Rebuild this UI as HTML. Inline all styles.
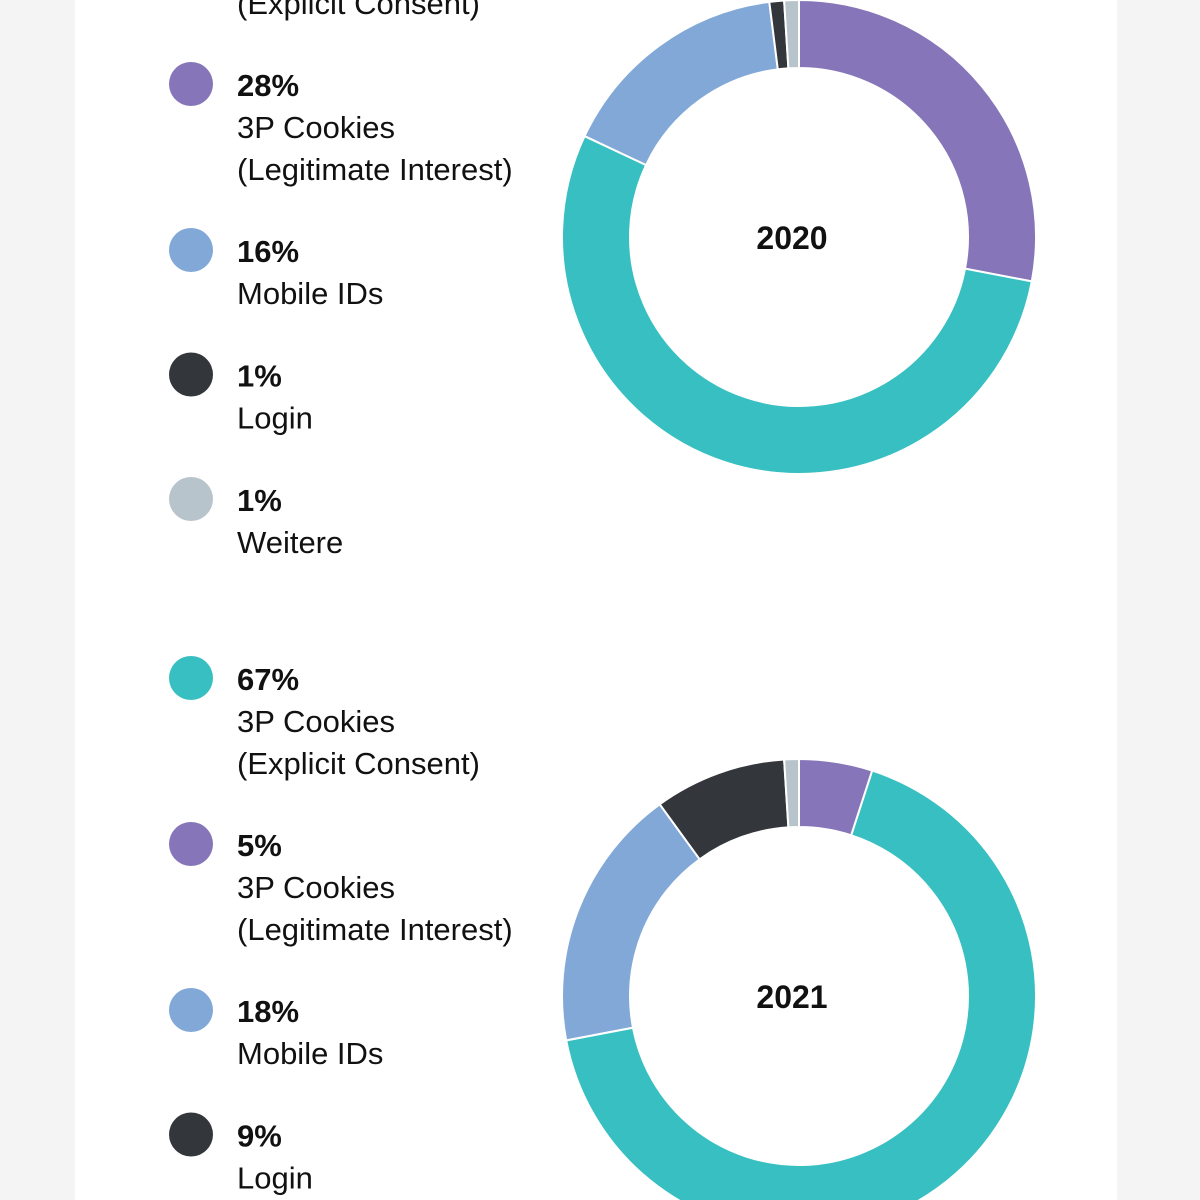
<!DOCTYPE html>
<html><head><meta charset="utf-8"><style>
html,body{margin:0;padding:0;background:#f4f4f4;overflow:hidden;}
svg{display:block;font-family:"Liberation Sans Narrow","Liberation Sans",sans-serif;}
</style></head><body>
<svg id="chart" width="1200" height="1200" viewBox="0 0 1200 1200" xmlns="http://www.w3.org/2000/svg">
<rect x="0" y="0" width="1200" height="1200" fill="#f4f4f4"/>
<rect x="75" y="0" width="1042" height="1200" fill="#ffffff"/>
<g id="legends"></g>
<g id="donuts"></g>
</svg>
<script>
const categories = ["3P Cookies (Explicit Consent)", "3P Cookies (Legitimate Interest)", "Mobile IDs", "Login", "Weitere"];
const years = ["2020", "2021"];
const values2020 = [54, 28, 16, 1, 1];
const values2021 = [67, 5, 18, 9, 1];
const pctLabels2020 = ["54%", "28%", "16%", "1%", "1%"];
const pctLabels2021 = ["67%", "5%", "18%", "9%", "1%"];
const colors = ["#37bfc1", "#8675b8", "#82a8d8", "#33363b", "#b8c4cb"];
const sliceOrder = [1, 0, 2, 3, 4];

const NS = "http://www.w3.org/2000/svg";
const legendG = document.getElementById("legends");
const donutG = document.getElementById("donuts");

const labelLines = [["3P Cookies","(Explicit Consent)"],["3P Cookies","(Legitimate Interest)"],["Mobile IDs"],["Login"],["Weitere"]];

function txt(parent, x, y, s, weight, size, anchor){
  const t = document.createElementNS(NS, "text");
  t.setAttribute("x", x); t.setAttribute("y", y);
  t.setAttribute("font-size", size); t.setAttribute("font-weight", weight);
  t.setAttribute("fill", "#111");
  if (anchor) t.setAttribute("text-anchor", anchor);
  t.textContent = s;
  parent.appendChild(t);
  return t;
}

function drawLegend(pcts, startY){
  let y = startY;
  for (let i = 0; i < categories.length; i++){
    const g = document.createElementNS(NS, "g");
    
    
    const lines = labelLines[i];
    const c = document.createElementNS(NS, "circle");
    c.setAttribute("cx", 191); c.setAttribute("cy", y - 4); c.setAttribute("r", 22);
    c.setAttribute("fill", colors[i]);
    g.appendChild(c);
    txt(g, 237, y + 8, pcts[i], "bold", 31);
    lines.forEach((l, k) => txt(g, 237, y + 50 + k * 42, l, "normal", 31));
    legendG.appendChild(g);
    y += 83 + lines.length * 41.5;
  }
}
drawLegend(pctLabels2020, -78);
drawLegend(pctLabels2021, 682);

function arc(cx, cy, R, r, a0, a1){
  const p = (rad, a) => [cx + rad * Math.sin(a), cy - rad * Math.cos(a)];
  const large = (a1 - a0) > Math.PI ? 1 : 0;
  const [x0,y0] = p(R,a0), [x1,y1] = p(R,a1), [x2,y2] = p(r,a1), [x3,y3] = p(r,a0);
  return `M${x0},${y0} A${R},${R} 0 ${large} 1 ${x1},${y1} L${x2},${y2} A${r},${r} 0 ${large} 0 ${x3},${y3} Z`;
}
function drawDonut(vals, cy, year){
  const total = vals.reduce((a,b)=>a+b,0);
  let a = 0;
  sliceOrder.forEach(i => {
    const a1 = a + vals[i] / total * 2 * Math.PI;
    const p = document.createElementNS(NS, "path");
    
    
    p.setAttribute("d", arc(799, cy, 237, 169, a, a1));
    p.setAttribute("fill", colors[i]);
    p.setAttribute("stroke", "#fff"); p.setAttribute("stroke-width", "2");
    donutG.appendChild(p);
    a = a1;
  });
  const t = txt(donutG, 792, cy + 12, year, "bold", 32, "middle");
  
  
}
drawDonut(values2020, 237, years[0]);
drawDonut(values2021, 996, years[1]);
</script>
</body></html>
